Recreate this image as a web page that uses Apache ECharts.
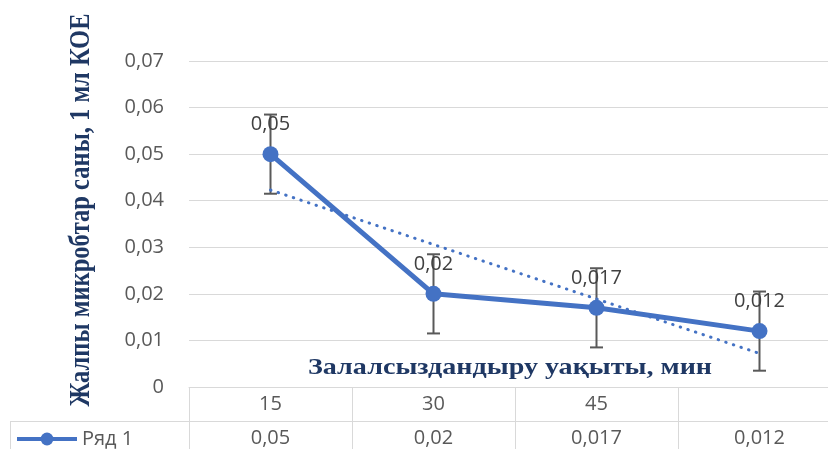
<!DOCTYPE html>
<html>
<head>
<meta charset="utf-8">
<script src="https://cdn.jsdelivr.net/npm/echarts@6/dist/echarts.min.js"></script>
<style>
  html, body { margin: 0; padding: 0; background: #fff; }
  #chart { width: 828px; height: 449px; }
</style>
</head>
<body>
<div id="chart"></div>
<script>
// chart data
const categories = ["15", "30", "45", ""];
const seriesName = "Ряд 1";
const values = [0.05, 0.02, 0.017, 0.012];
const errors = [0.0085, 0.0085, 0.0085, 0.0085];
const trendValues = [0.0423, 0.0306, 0.0189, 0.0072];
const yTitle = "Жалпы микробтар саны, 1 мл КОЕ";
const xTitle = "Залалсыздандыру уақыты, мин";

const blue = "#4472c4";
const gray = "#595959";
const grid = "#d9d9d9";
const navy = "#1f3864";

const fmt = (v) => String(v).replace(".", ",");

const chart = echarts.init(document.getElementById("chart"));

chart.setOption({
  animation: false,
  grid: { left: 189, right: -13, top: 61, bottom: 62, outerBoundsMode: "none", containLabel: false },
  legend: {
    data: [seriesName],
    left: 10,
    top: 424,
    itemWidth: 60,
    itemHeight: 16,
    lineStyle: { width: 4 },
    textStyle: { fontFamily: "Open Sans", fontSize: 20, color: gray },
  },
  xAxis: {
    type: "category",
    data: categories,
    boundaryGap: true,
    axisLine: { show: true, lineStyle: { color: grid, width: 1 } },
    axisTick: { show: true, length: 62, lineStyle: { color: grid, width: 1 } },
    axisLabel: {
      margin: 0,
      interval: 0,
      lineHeight: 34,
      fontFamily: "Open Sans",
      fontSize: 20,
      color: gray,
      formatter: (val, idx) => val + "\n" + fmt(values[idx]),
    },
  },
  yAxis: {
    type: "value",
    min: 0,
    max: 0.07,
    interval: 0.01,
    axisLine: { show: false },
    axisTick: { show: false },
    splitLine: { lineStyle: { color: grid, width: 1 } },
    axisLabel: {
      margin: 25,
      fontFamily: "Open Sans",
      fontSize: 20,
      color: gray,
      formatter: (v) => (v === 0 ? "0" : v.toFixed(2).replace(".", ",")),
    },
  },
  series: [
    {
      name: "errors",
      type: "custom",
      z: 1,
      data: values.map((v, i) => [i, v - errors[i], v + errors[i]]),
      encode: { x: 0, y: [1, 2] },
      renderItem(params, api) {
        const lo = api.coord([api.value(0), api.value(1)]);
        const hi = api.coord([api.value(0), api.value(2)]);
        const cap = 6.5;
        const style = { stroke: gray, lineWidth: 2 };
        return {
          type: "group",
          children: [
            { type: "line", shape: { x1: lo[0], y1: lo[1], x2: hi[0], y2: hi[1] }, style },
            { type: "line", shape: { x1: hi[0] - cap, y1: hi[1], x2: hi[0] + cap, y2: hi[1] }, style },
            { type: "line", shape: { x1: lo[0] - cap, y1: lo[1], x2: lo[0] + cap, y2: lo[1] }, style },
          ],
        };
      },
    },
    {
      name: "trend",
      type: "line",
      z: 3,
      data: trendValues,
      symbol: "none",
      silent: true,
      lineStyle: { color: blue, width: 3, type: [0.5, 7.5], cap: "round" },
    },
    {
      name: seriesName,
      type: "line",
      z: 2,
      data: values,
      symbol: "circle",
      symbolSize: 16,
      itemStyle: { color: blue },
      lineStyle: { color: blue, width: 5 },
      label: {
        show: true,
        position: "top",
        distance: 12,
        fontFamily: "Open Sans",
        fontSize: 20,
        color: "#404040",
        formatter: (p) => fmt(p.value),
      },
    },
  ],
  graphic: [
    {
      type: "text",
      x: 82,
      y: 210,
      rotation: Math.PI / 2,
      scaleY: 1.17,
      style: {
        text: yTitle,
        font: "bold 24.5px 'Liberation Serif'",
        fill: navy,
        align: "center",
        verticalAlign: "middle",
      },
    },
    {
      type: "text",
      x: 510,
      y: 368,
      scaleX: 1.17,
      style: {
        text: xTitle,
        font: "bold 24px 'Liberation Serif'",
        fill: navy,
        align: "center",
        verticalAlign: "middle",
      },
    },
    { type: "line", shape: { x1: 10, y1: 421.5, x2: 828, y2: 421.5 }, style: { stroke: grid, lineWidth: 1 } },
    { type: "line", shape: { x1: 10.5, y1: 421, x2: 10.5, y2: 449 }, style: { stroke: grid, lineWidth: 1 } },
  ],
});
</script>
</body>
</html>
